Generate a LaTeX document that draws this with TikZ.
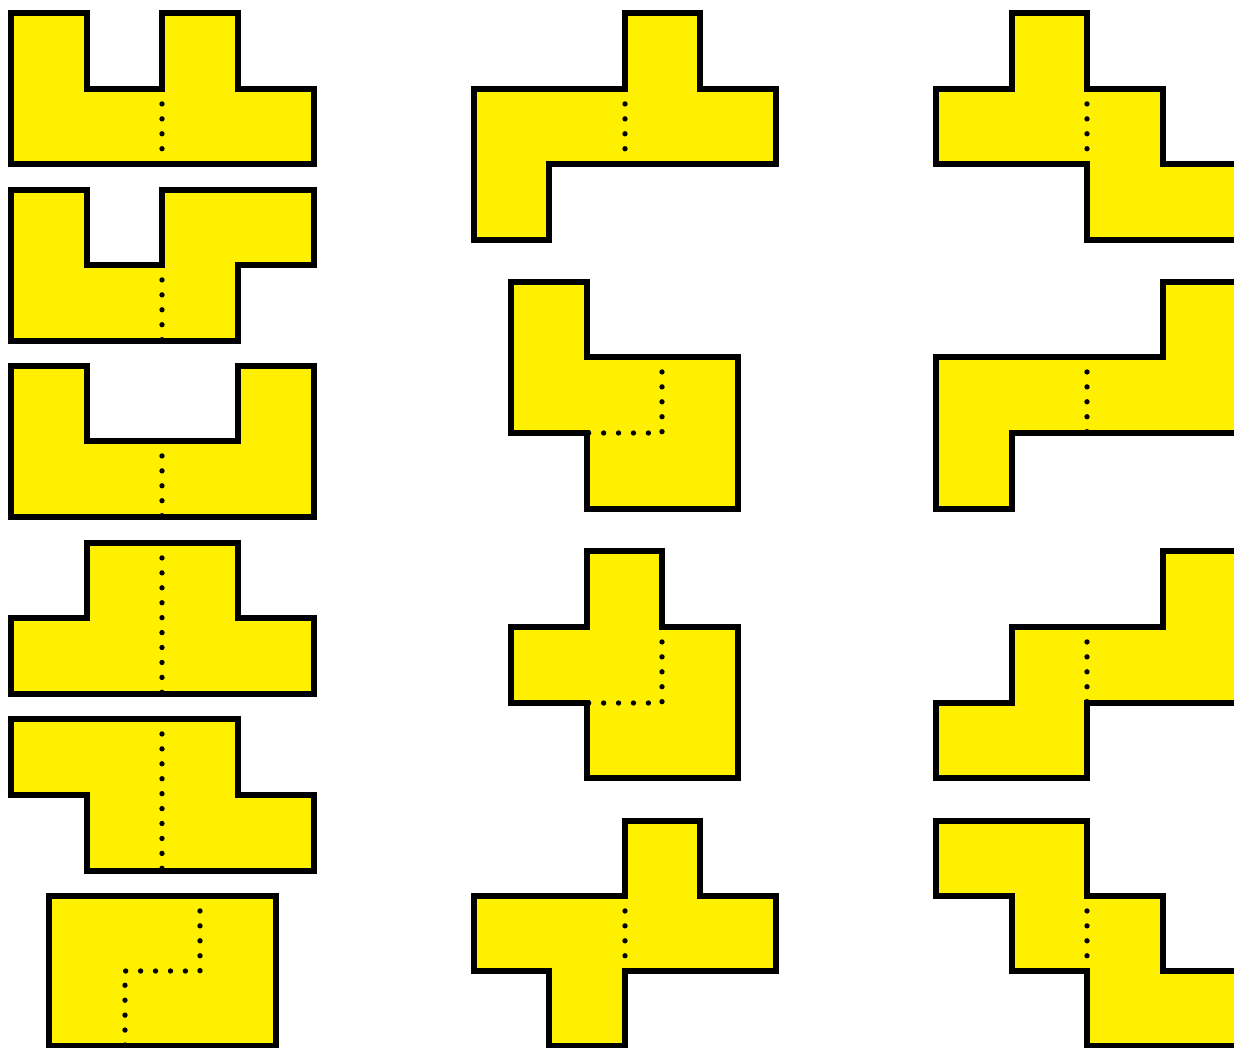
\documentclass[tikz,border=0pt]{standalone}
\begin{document}
\definecolor{piece}{RGB}{255,240,0}
\begin{tikzpicture}[x=0.75pt,y=-0.75pt,
  pc/.style={fill=piece,draw=black,line width=3.8pt,line join=miter},
  seam/.style={draw=black,line width=4pt,line cap=round,dash pattern=on 0pt off 11.2pt}]
\useasboundingbox (0,0) rectangle (1234,1048);
\clip (0,0) rectangle (1234,1048);
% ---------- column 1 ----------
\draw[pc] (11,13)--(87,13)--(87,89)--(162,89)--(162,13)--(238,13)--(238,89)--(314,89)--(314,164)--(11,164)--cycle;
\draw[seam] (162,89)--(162,164);
\draw[pc] (11,190)--(87,190)--(87,265)--(162,265)--(162,190)--(314,190)--(314,265)--(238,265)--(238,341)--(11,341)--cycle;
\draw[seam] (162,265)--(162,341);
\draw[pc] (11,366)--(87,366)--(87,441)--(238,441)--(238,366)--(314,366)--(314,517)--(11,517)--cycle;
\draw[seam] (162,441)--(162,517);
\draw[pc] (87,543)--(238,543)--(238,618)--(314,618)--(314,694)--(11,694)--(11,618)--(87,618)--cycle;
\draw[seam] (162,543)--(162,694);
\draw[pc] (11,719)--(238,719)--(238,795)--(314,795)--(314,871)--(87,871)--(87,795)--(11,795)--cycle;
\draw[seam] (162,719)--(162,871);
\draw[pc] (49,896) rectangle (276,1046);
\draw[seam] (200,896)--(200,971)--(125,971)--(125,1046);
% ---------- column 2 ----------
\draw[pc] (625,13)--(700,13)--(700,89)--(776,89)--(776,164)--(549,164)--(549,240)--(474,240)--(474,89)--(625,89)--cycle;
\draw[seam] (625,89)--(625,164);
\draw[pc] (511,282)--(587,282)--(587,357)--(738,357)--(738,509)--(587,509)--(587,433)--(511,433)--cycle;
\draw[seam] (662,357)--(662,433)--(587,433);
\draw[pc] (587,551)--(662,551)--(662,627)--(738,627)--(738,778)--(587,778)--(587,703)--(511,703)--(511,627)--(587,627)--cycle;
\draw[seam] (662,627)--(662,703)--(587,703);
\draw[pc] (625,821)--(700,821)--(700,896)--(776,896)--(776,971)--(625,971)--(625,1046)--(549,1046)--(549,971)--(474,971)--(474,896)--(625,896)--cycle;
\draw[seam] (625,896)--(625,971);
% ---------- column 3 ----------
\draw[pc] (1012,13)--(1087,13)--(1087,89)--(1163,89)--(1163,164)--(1238,164)--(1238,240)--(1087,240)--(1087,164)--(936,164)--(936,89)--(1012,89)--cycle;
\draw[seam] (1087,89)--(1087,164);
\draw[pc] (1163,282)--(1238,282)--(1238,433)--(1012,433)--(1012,509)--(936,509)--(936,357)--(1163,357)--cycle;
\draw[seam] (1087,357)--(1087,433);
\draw[pc] (1163,551)--(1238,551)--(1238,703)--(1087,703)--(1087,778)--(936,778)--(936,703)--(1012,703)--(1012,627)--(1163,627)--cycle;
\draw[seam] (1087,627)--(1087,703);
\draw[pc] (936,821)--(1087,821)--(1087,896)--(1163,896)--(1163,971)--(1238,971)--(1238,1046)--(1087,1046)--(1087,971)--(1012,971)--(1012,896)--(936,896)--cycle;
\draw[seam] (1087,896)--(1087,971);
\end{tikzpicture}
\end{document}
